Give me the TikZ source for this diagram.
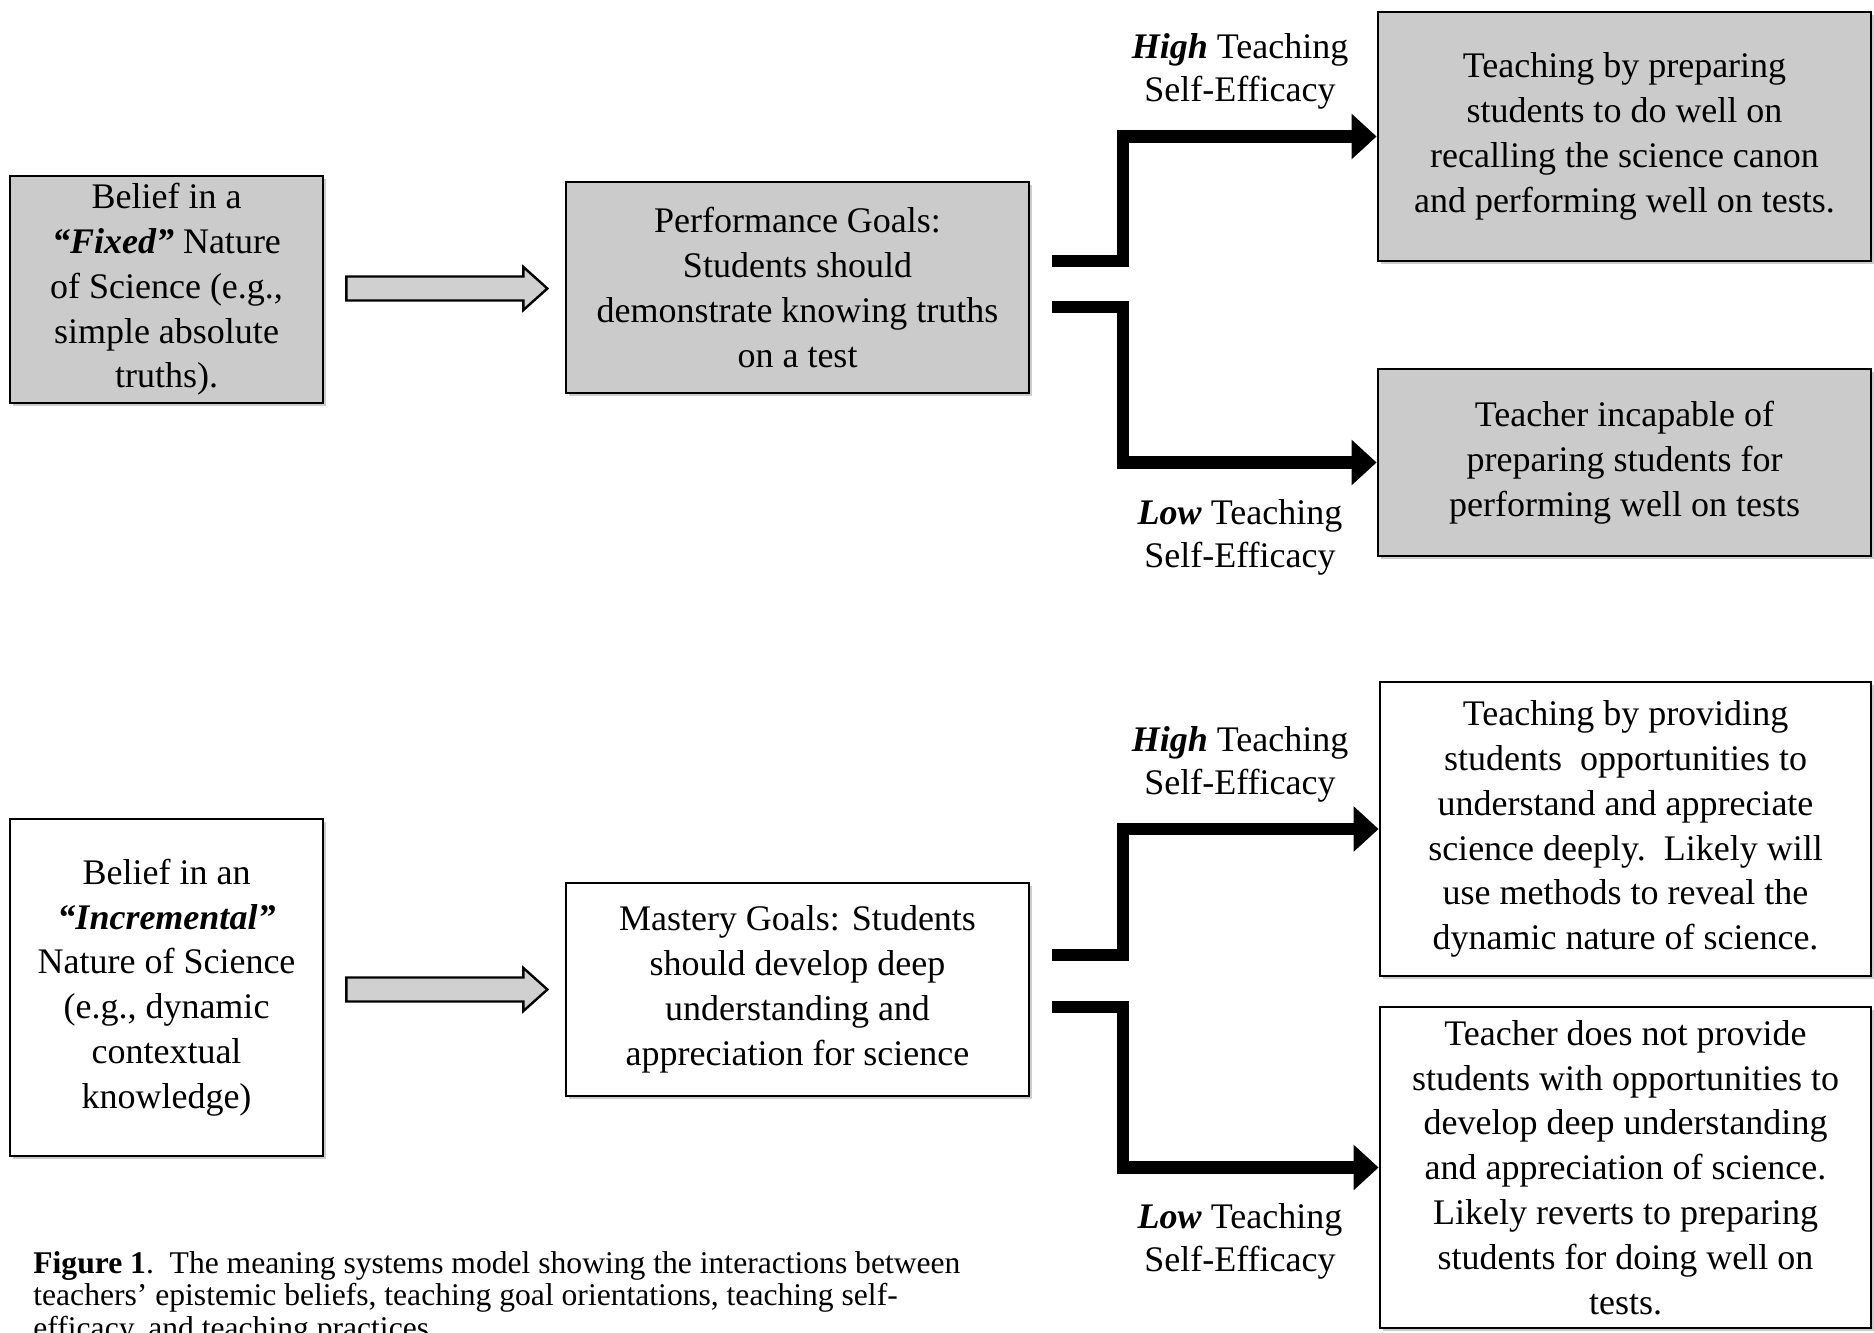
\documentclass[tikz,border=0pt]{standalone}
\usepackage{fontspec}
\setmainfont{Liberation Serif}
\usetikzlibrary{arrows.meta,shadows,calc}
\definecolor{boxgray}{RGB}{203,203,203}
\definecolor{arrowgray}{RGB}{208,208,208}
\begin{document}
\begin{tikzpicture}[x=0.5pt,y=-0.5pt,
  box/.style={draw=black, line width=1.4pt, align=center, inner sep=2pt,
    font=\fontsize{18}{22.4}\selectfont,
    drop shadow={shadow xshift=1.5pt, shadow yshift=-1.5pt, opacity=0.4}},
  gbox/.style={box, fill=boxgray},
  wbox/.style={box, fill=white},
  lbl/.style={align=center, font=\fontsize{18}{21.5}\selectfont, inner sep=0pt},
  bigarrow/.style={line width=6.2pt, line join=miter, -{Triangle[length=12.5pt,width=22pt]}},
  hollow/.style={draw=black, line width=1.2pt, fill=arrowgray, line join=miter}
]
\useasboundingbox (0,0) rectangle (1874,1333);

% ---------- top row ----------
\node[gbox, minimum width=156.5pt, minimum height=113.5pt] (A1) at (166.5,289.5)
  {Belief in a\\\textbf{\textit{“Fixed”}} Nature\\of Science (e.g.,\\simple absolute\\truths).};
\node[gbox, minimum width=231.5pt, minimum height=105.5pt] (B1) at (797.5,287.5)
  {Performance Goals:\\Students should\\demonstrate knowing truths\\on a test};
\node[gbox, minimum width=246.5pt, minimum height=124.5pt] (C1) at (1624.5,136.5)
  {Teaching by preparing\\students to do well on\\recalling the science canon\\and performing well on tests.};
\node[gbox, minimum width=246.5pt, minimum height=93.5pt] (C2) at (1624.5,462.5)
  {Teacher incapable of\\preparing students for\\performing well on tests};

\node[lbl] (H1) at (1240,71) {\textbf{\textit{High}} Teaching\\Self-Efficacy};
\node[lbl] (L1) at (1240,537) {\textbf{\textit{Low}} Teaching\\Self-Efficacy};

\path (A1.east) ++(22,-1) coordinate (t1);
\draw[hollow] (t1) ++(0,-12) -- ++(177,0) -- ++(0,-9.5) -- ++(24,21.5)
  -- ++(-24,21.5) -- ++(0,-9.5) -- ++(-177,0) -- cycle;

\coordinate (s1) at (1052,261);
\coordinate (k1) at (1123,261);
\draw[bigarrow] (s1) -- (k1) |- (C1.west);
\coordinate (s2) at (1052,307);
\coordinate (k2) at (1123,307);
\draw[bigarrow] (s2) -- (k2) |- (C2.west);

% ---------- bottom row ----------
\node[wbox, minimum width=156.5pt, minimum height=168.5pt] (A2) at (166.5,987.5)
  {Belief in an\\\textbf{\textit{“Incremental”}}\\Nature of Science\\(e.g., dynamic\\contextual\\knowledge)};
\node[wbox, minimum width=231.5pt, minimum height=106.5pt] (B2) at (797.5,989.5)
  {Mastery Goals: Students\\should develop deep\\understanding and\\appreciation for science};
\node[wbox, minimum width=245.5pt, minimum height=147pt] (C3) at (1625.5,829)
  {Teaching by providing\\students\ \ opportunities to\\understand and appreciate\\science deeply.\ \ Likely will\\use methods to reveal the\\dynamic nature of science.};
\node[wbox, minimum width=245.5pt, minimum height=160.5pt] (C4) at (1625.5,1167.5)
  {Teacher does not provide\\students with opportunities to\\develop deep understanding\\and appreciation of science.\\Likely reverts to preparing\\students for doing well on\\tests.};

\node[lbl] (H2) at (1240,764) {\textbf{\textit{High}} Teaching\\Self-Efficacy};
\node[lbl] (L2) at (1240,1241) {\textbf{\textit{Low}} Teaching\\Self-Efficacy};

\path (A2.east) ++(22,2) coordinate (t2);
\draw[hollow] (t2) ++(0,-12) -- ++(177,0) -- ++(0,-9.5) -- ++(24,21.5)
  -- ++(-24,21.5) -- ++(0,-9.5) -- ++(-177,0) -- cycle;

\coordinate (s3) at (1052,955);
\coordinate (k3) at (1123,955);
\draw[bigarrow] (s3) -- (k3) |- (C3.west);
\coordinate (s4) at (1052,1007);
\coordinate (k4) at (1123,1007);
\draw[bigarrow] (s4) -- (k4) |- (C4.west);

% ---------- caption ----------
\node[anchor=north west, align=left, inner sep=0pt, font=\fontsize{15.8}{16.3}\selectfont] (cap) at (33,1251)
  {\textbf{Figure 1}.\ \ The meaning systems model showing the interactions between\\teachers’ epistemic beliefs, teaching goal orientations, teaching self-\\efficacy, and teaching practices.};
\end{tikzpicture}
\end{document}
